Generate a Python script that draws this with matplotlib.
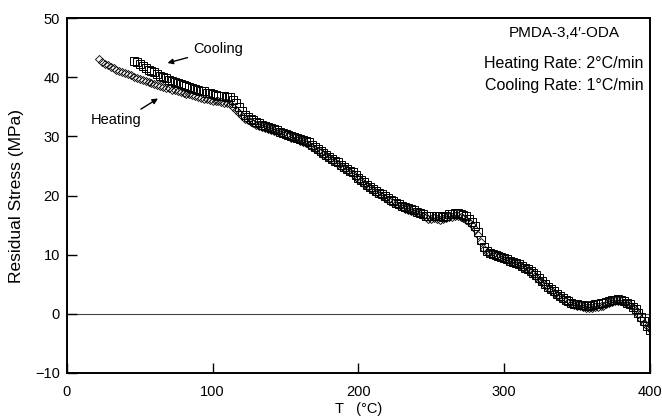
import matplotlib
matplotlib.use("Agg")
import matplotlib.pyplot as plt

plt.rcParams["font.family"] = ["Liberation Sans", "DejaVu Sans"]

# Heating run (diamonds), T in °C, stress in MPa
heat_T = [22, 24, 26, 28, 30, 32, 34, 36, 38, 40,
          42, 44, 46, 48, 50, 52, 54, 56, 58, 60,
          62, 64, 66, 68, 70, 72, 74, 76, 78, 80,
          82, 84, 86, 88, 90, 92, 94, 96, 98, 100,
          102, 104, 106, 108, 110, 112, 114, 116, 118, 120,
          122, 124, 126, 128, 130, 132, 134, 136, 138, 140,
          142, 144, 146, 148, 150, 152, 154, 156, 158, 160,
          162, 164, 166, 168, 170, 172, 174, 176, 178, 180,
          182, 184, 186, 188, 190, 192, 194, 196, 198, 200,
          202, 204, 206, 208, 210, 212, 214, 216, 218, 220,
          222, 224, 226, 228, 230, 232, 234, 236, 238, 240,
          242, 244, 246, 248, 250, 252, 254, 256, 258, 260,
          262, 264, 266, 268, 270, 272, 274, 276, 278, 280,
          282, 284, 286, 288, 290, 292, 294, 296, 298, 300,
          302, 304, 306, 308, 310, 312, 314, 316, 318, 320,
          322, 324, 326, 328, 330, 332, 334, 336, 338, 340,
          342, 344, 346, 348, 350, 352, 354, 356, 358, 360,
          362, 364, 366, 368, 370, 372, 374, 376, 378, 380,
          382, 384, 386, 388, 390, 392, 394, 396, 398, 400]
heat_S = [43.0, 42.6, 42.3, 42.0, 41.8, 41.5, 41.3, 41.1, 40.9, 40.7,
          40.5, 40.3, 40.1, 39.9, 39.7, 39.6, 39.4, 39.2, 39.0, 38.9,
          38.7, 38.5, 38.4, 38.2, 38.1, 37.9, 37.8, 37.6, 37.5, 37.3,
          37.2, 37.1, 37.0, 36.8, 36.7, 36.5, 36.4, 36.3, 36.2, 36.0,
          35.9, 35.9, 35.8, 35.7, 35.6, 35.4, 35.0, 34.5, 34.0, 33.5,
          33.0, 32.7, 32.4, 32.2, 32.0, 31.8, 31.6, 31.4, 31.2, 31.0,
          30.9, 30.7, 30.5, 30.4, 30.2, 30.0, 29.8, 29.7, 29.5, 29.3,
          29.1, 28.9, 28.6, 28.2, 27.9, 27.6, 27.3, 26.9, 26.6, 26.3,
          26.0, 25.6, 25.3, 24.9, 24.6, 24.3, 24.0, 23.6, 23.2, 22.8,
          22.4, 22.0, 21.6, 21.2, 20.9, 20.5, 20.2, 19.9, 19.6, 19.3,
          19.0, 18.7, 18.5, 18.3, 18.1, 17.8, 17.6, 17.4, 17.2, 17.0,
          16.8, 16.5, 16.3, 16.1, 16.0, 16.2, 16.1, 15.9, 16.0, 16.2,
          16.3, 16.4, 16.5, 16.6, 16.4, 16.2, 15.9, 15.5, 15.0, 14.3,
          13.4, 12.2, 11.0, 10.4, 10.1, 9.9, 9.8, 9.6, 9.4, 9.3,
          9.1, 8.9, 8.6, 8.4, 8.2, 7.9, 7.6, 7.4, 7.1, 6.7,
          6.3, 5.8, 5.4, 4.9, 4.4, 4.0, 3.6, 3.2, 2.8, 2.5,
          2.2, 1.9, 1.7, 1.5, 1.4, 1.3, 1.2, 1.0, 0.9, 1.0,
          1.1, 1.2, 1.3, 1.4, 1.6, 1.8, 2.0, 2.1, 2.2, 2.1,
          1.9, 1.7, 1.5, 1.1, 0.6, -0.1, -0.9, -1.5, -2.0, -2.6]

# Cooling run (squares)
cool_T = [46, 48, 50, 52, 54, 56, 58, 60, 62, 64,
          66, 68, 70, 72, 74, 76, 78, 80, 82, 84,
          86, 88, 90, 92, 94, 96, 98, 100, 102, 104,
          106, 108, 110, 112, 114, 116, 118, 120, 122, 124,
          126, 128, 130, 132, 134, 136, 138, 140, 142, 144,
          146, 148, 150, 152, 154, 156, 158, 160, 162, 164,
          166, 168, 170, 172, 174, 176, 178, 180, 182, 184,
          186, 188, 190, 192, 194, 196, 198, 200, 202, 204,
          206, 208, 210, 212, 214, 216, 218, 220, 222, 224,
          226, 228, 230, 232, 234, 236, 238, 240, 242, 244,
          246, 248, 250, 252, 254, 256, 258, 260, 262, 264,
          266, 268, 270, 272, 274, 276, 278, 280, 282, 284,
          286, 288, 290, 292, 294, 296, 298, 300, 302, 304,
          306, 308, 310, 312, 314, 316, 318, 320, 322, 324,
          326, 328, 330, 332, 334, 336, 338, 340, 342, 344,
          346, 348, 350, 352, 354, 356, 358, 360, 362, 364,
          366, 368, 370, 372, 374, 376, 378, 380, 382, 384,
          386, 388, 390, 392, 394, 396, 398, 400]
cool_S = [42.7, 42.5, 42.3, 41.9, 41.6, 41.3, 41.0, 40.8, 40.5, 40.2,
          40.0, 39.8, 39.6, 39.4, 39.2, 39.0, 38.9, 38.7, 38.5, 38.3,
          38.2, 38.0, 37.9, 37.7, 37.6, 37.4, 37.3, 37.2, 37.0, 36.9,
          36.8, 36.8, 36.7, 36.6, 36.2, 35.7, 35.0, 34.3, 33.6, 33.3,
          33.0, 32.7, 32.5, 32.2, 32.0, 31.8, 31.6, 31.4, 31.2, 31.0,
          30.8, 30.6, 30.4, 30.3, 30.1, 29.9, 29.8, 29.6, 29.4, 29.2,
          29.0, 28.6, 28.2, 27.9, 27.6, 27.2, 26.9, 26.5, 26.2, 25.9,
          25.6, 25.2, 24.9, 24.5, 24.2, 23.9, 23.5, 23.0, 22.6, 22.2,
          21.8, 21.5, 21.1, 20.8, 20.5, 20.2, 19.9, 19.6, 19.3, 19.0,
          18.8, 18.5, 18.3, 18.1, 17.9, 17.7, 17.5, 17.2, 17.0, 16.8,
          16.6, 16.5, 16.5, 16.6, 16.6, 16.5, 16.4, 16.6, 16.8, 16.9,
          17.0, 17.0, 16.9, 16.7, 16.5, 16.1, 15.6, 14.9, 13.8, 12.5,
          11.3, 10.7, 10.3, 10.1, 10.0, 9.8, 9.6, 9.4, 9.2, 9.0,
          8.8, 8.6, 8.4, 8.1, 7.8, 7.5, 7.2, 6.9, 6.5, 6.0,
          5.6, 5.1, 4.6, 4.2, 3.8, 3.4, 3.0, 2.7, 2.4, 2.1,
          1.9, 1.7, 1.6, 1.5, 1.5, 1.4, 1.4, 1.5, 1.6, 1.7,
          1.8, 1.9, 2.0, 2.2, 2.3, 2.4, 2.5, 2.3, 2.1, 1.9,
          1.6, 1.2, 0.8, 0.1, -0.6, -1.3, -2.0, -2.8]

x_ticks = [0, 100, 200, 300, 400]
y_ticks = [-10, 0, 10, 20, 30, 40, 50]

fig = plt.figure(figsize=(6.62, 4.20), dpi=100)
ax = fig.add_axes([0.101, 0.112, 0.881, 0.845])

ax.axhline(0, color="#444444", lw=0.8, zorder=1)
ax.plot(heat_T, heat_S, ls="none", marker="D", ms=3.6, mfc="none", mec="black",
        mew=0.6, zorder=2)
ax.plot(cool_T, cool_S, ls="none", marker="s", ms=6.3, mfc="none", mec="black",
        mew=0.7, zorder=3)

ax.set_xlim(0, 400)
ax.set_ylim(-10, 50)
ax.set_xticks(x_ticks)
ax.set_yticks(y_ticks)
ax.tick_params(direction="in", length=7, width=1, labelsize=10.5)
ax.tick_params(axis="x", pad=9)
ax.tick_params(axis="y", pad=5)
for s in ax.spines.values():
    s.set_linewidth(1.4)

ax.set_xlabel("T   (°C)", fontsize=10.5, labelpad=2)
ax.set_ylabel("Residual Stress (MPa)", fontsize=12.5, labelpad=8)

ax.annotate("Cooling", xy=(69, 42.4), xytext=(86.5, 44.7), fontsize=10.5,
            va="center", ha="left",
            arrowprops=dict(arrowstyle="-|>", color="black", lw=1, shrinkA=2,
                            shrinkB=0, mutation_scale=8))
ax.annotate("Heating", xy=(62.5, 36.4), xytext=(16.5, 32.7), fontsize=10.5,
            va="center", ha="left",
            arrowprops=dict(arrowstyle="-|>", color="black", lw=1, shrinkA=2,
                            shrinkB=0, mutation_scale=8,
                            relpos=(0.85, 1.0)))

ax.text(341, 47.5, "PMDA-3,4′-ODA", ha="center", va="center", fontsize=11)
ax.text(341, 42.4, "Heating Rate: 2°C/min", ha="center", va="center", fontsize=11.5)
ax.text(341, 38.6, "Cooling Rate: 1°C/min", ha="center", va="center", fontsize=11.5)

fig.savefig("out.png", dpi=100)
